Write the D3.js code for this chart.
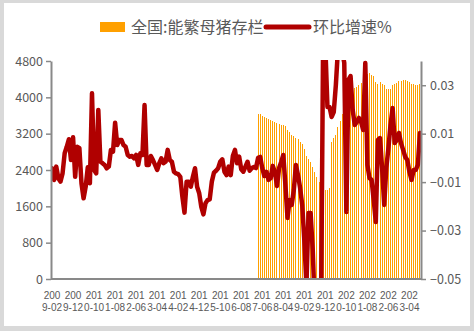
<!DOCTYPE html>
<html><head><meta charset="utf-8">
<script src="https://cdn.jsdelivr.net/npm/d3@7"></script>
<style>body{margin:0;background:#fff}svg{display:block}</style>
</head><body>
<svg id="c" width="474" height="331"></svg>
<script>
// ---------- data ----------
const firstMonth = "2009-02";   // first category
const monthCount = 176;         // 2009-02 .. 2023-09
const tickLabels = ["2009-02","2009-12","2010-10","2011-08","2012-06","2013-04","2014-02","2014-12","2015-10","2016-08","2017-06","2018-04","2019-02","2019-12","2020-10","2021-08","2022-06","2023-04"];
const leftTicks = [0,800,1600,2400,3200,4000,4800];
const rightTicks = [-0.05,-0.03,-0.01,0.01,0.03];
const seriesNames = ["全国:能繁母猪存栏","环比增速%"];

// sow stock (bars), starting at 2017-04
const sowStart = "2017-04";
const sowStock = [3633,3633,3593,3574,3545,3527,3501,3479,3457,3428,3408,3397,3380,3358,3281,3226,3177,3142,3109,3072,
3027,2966,2862,2715,2649,2583,2473,2363,2252,2142,1960,1940,1950,1960,1997,3023,3098,3160,3353,3485,
3633,3765,3897,4007,4095,4161,4205,4221,4265,4316,4382,4448,4503,4536,4498,4463,4338,4294,4338,4294,
4278,4190,4190,4190,4278,4294,4316,4353,4366,4388,4388,4366,4338,4300,4300,4265,4278,4294];

// month-on-month growth (line), from 2009-02
const momGrowth = [-0.0043,-0.0091,-0.0036,-0.0084,-0.0098,-0.0064,0.0019,0.0046,0.0077,-0.0009,
0.0085,-0.0078,0.0046,0.0040,-0.0105,-0.0167,-0.0119,-0.0039,-0.0105,0.0267,
-0.0050,-0.0064,0.0198,-0.0016,-0.0022,-0.0029,-0.0043,-0.0036,0.0033,0.0026,
0.0145,0.0053,0.0074,0.0074,0.0053,0.0046,0.0012,0.0005,0.0008,-0.0002,
0.0012,-0.0029,0.0019,0.0012,0.0218,-0.0029,-0.0029,0.0008,-0.0009,-0.0029,
-0.0050,-0.0022,-0.0002,-0.0022,-0.0016,0.0033,-0.0009,-0.0016,-0.0057,-0.0064,
-0.0067,-0.0078,-0.0160,-0.0226,-0.0098,-0.0098,-0.0119,-0.0078,-0.0043,-0.0119,
-0.0146,-0.0202,-0.0233,-0.0187,-0.0174,-0.0171,-0.0098,-0.0061,-0.0053,-0.0043,
-0.0016,-0.0006,-0.0057,-0.0071,-0.0036,-0.0071,0.0008,0.0033,-0.0022,0.0005,
-0.0047,-0.0057,-0.0036,-0.0016,-0.0053,-0.0042,-0.0038,-0.0042,0.0000,0.0004,
-0.0042,-0.0075,-0.0058,-0.0091,-0.0083,-0.0033,-0.0058,-0.0116,-0.0042,-0.0017,
0.0012,-0.0112,-0.0248,-0.0174,-0.0194,-0.0133,-0.0029,-0.0071,-0.0124,-0.0194,
-0.0339,-0.0525,-0.0228,-0.0228,-0.0380,-0.0620,-0.0750,-0.0650,-0.0580,0.0550,
0.0460,0.0210,0.0210,0.0169,0.0189,0.0301,0.0450,0.0480,0.0440,0.0392,
-0.0223,0.0322,0.0338,0.0198,0.0136,0.0148,0.0165,0.0148,0.0115,0.0392,
-0.0029,-0.0083,-0.0091,-0.0174,-0.0265,0.0074,0.0082,-0.0042,-0.0194,-0.0042,
0.0041,0.0136,0.0206,0.0061,0.0074,0.0103,0.0061,0.0033,0.0004,-0.0009,
-0.0058,-0.0091,-0.0050,-0.0050,-0.0029,0.0103];

// ---------- build categories ----------
const fmt = d3.timeFormat("%Y-%m"), parse = d3.timeParse("%Y-%m");
const categories = d3.range(monthCount).map(i => fmt(d3.timeMonth.offset(parse(firstMonth), i)));
const sowOffset = categories.indexOf(sowStart);
const barData = sowStock.map((v,i)=>({c:categories[sowOffset+i], v}));
const lineData = momGrowth.map((v,i)=>({c:categories[i], v}));

// ---------- layout ----------
const svg = d3.select("#c");
const L=51, R=421, T=61, B=279;
const font = '"Noto Sans CJK SC","Noto Sans",sans-serif';
const textColor = "#595959", axisColor = "#898989";
const barColor = "#FFA000", lineColor = "#B00000";

svg.append("rect").attr("width",474).attr("height",331).attr("fill","#D9D9D9");
svg.append("rect").attr("x",4).attr("y",3).attr("width",466).attr("height",323).attr("fill","#fff");

const x = d3.scaleBand().domain(categories).range([L,R]).padding(0);
const bw = x.bandwidth();
const yL = d3.scaleLinear().domain([0,4800]).range([B,T]);
const yR = d3.scaleLinear().domain([-0.05,0.04]).range([B,T]);

// bars (1px wide, snapped to pixel grid)
svg.append("g").selectAll("rect").data(barData).join("rect")
  .attr("x", d=>Math.round(x(d.c)+bw/2-0.5)).attr("width", 1)
  .attr("y", d=>yL(d.v)).attr("height", d=>B-yL(d.v))
  .attr("fill", barColor).attr("shape-rendering","crispEdges");

// line (clipped to plot area)
svg.append("clipPath").attr("id","clip").append("rect")
  .attr("x",L).attr("y",T-1).attr("width",R-L).attr("height",B-T+1);
svg.append("path").datum(lineData)
  .attr("clip-path","url(#clip)")
  .attr("fill","none").attr("stroke",lineColor).attr("stroke-width",4.5)
  .attr("stroke-linejoin","round").attr("stroke-linecap","round")
  .attr("d", d3.line().x(d=>x(d.c)+bw/2).y(d=>yR(d.v)));

// axes
const gL = svg.append("g").attr("transform",`translate(${L},0)`)
  .call(d3.axisLeft(yL).tickValues(leftTicks).tickFormat(d3.format("d")).tickSize(5).tickSizeOuter(0).tickPadding(3));
const gR = svg.append("g").attr("transform",`translate(${R},0)`)
  .call(d3.axisRight(yR).tickValues(rightTicks).tickFormat(d3.format(".2f")).tickSize(5).tickSizeOuter(0).tickPadding(4));
[gL,gR].forEach(g=>{
  g.select(".domain").attr("stroke",axisColor).attr("stroke-width",2);
  g.selectAll(".tick line").attr("stroke",axisColor).attr("stroke-width",1.5);
  g.selectAll(".tick text").attr("fill",textColor).style("font-family",font).style("font-size","12.5px");
});
svg.append("line").attr("x1",L).attr("x2",R+1).attr("y1",B).attr("y2",B)
  .attr("stroke",axisColor).attr("stroke-width",2);

// x labels (wrapped like the original)
const xl = svg.append("g").style("font-family",'"Liberation Sans",Arial,sans-serif').style("font-size","10px").attr("fill",textColor);
tickLabels.forEach(t=>{
  const cx = x(t)+bw/2;
  const tx = xl.append("text").attr("text-anchor","middle");
  tx.append("tspan").attr("x",cx).attr("y",298.5).text(t.slice(0,3));
  tx.append("tspan").attr("x",cx).attr("y",311).text(t.slice(3));
});

// legend
const lg = svg.append("g").style("font-family",font).style("font-size","16px").attr("fill",textColor);
lg.append("rect").attr("x",100).attr("y",22).attr("width",25).attr("height",10).attr("fill",barColor);
lg.append("text").attr("x",131).attr("y",33).text(seriesNames[0]);
lg.append("line").attr("x1",266).attr("x2",309).attr("y1",27).attr("y2",27)
  .attr("stroke",lineColor).attr("stroke-width",5).attr("stroke-linecap","round");
lg.append("text").attr("x",313).attr("y",33).text(seriesNames[1]);
</script>
</body></html>
